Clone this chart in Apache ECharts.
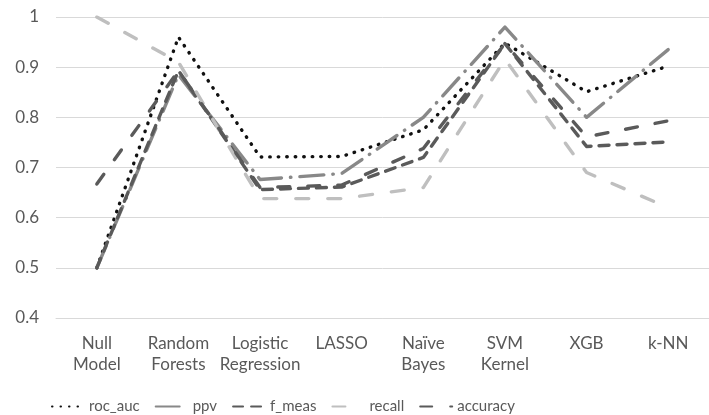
<!DOCTYPE html>
<html>
<head>
<meta charset="utf-8">
<script src="https://cdn.jsdelivr.net/npm/echarts@6/dist/echarts.min.js"></script>
<style>
  html, body { margin: 0; padding: 0; background: #fff; }
  #chart { width: 709px; height: 415px; }
</style>
</head>
<body>
<div id="chart"></div>
<script>
// Model names shown along the x axis
const models = ['Null\nModel', 'Random\nForests', 'Logistic\nRegression', 'LASSO', 'Naïve\nBayes', 'SVM\nKernel', 'XGB', 'k-NN'];

// Metric values per model
const rocAuc   = [0.500, 0.960, 0.721, 0.722, 0.775, 0.948, 0.851, 0.902];
const ppv      = [0.500, 0.885, 0.676, 0.688, 0.800, 0.980, 0.800, 0.935];
const fMeas    = [0.500, 0.893, 0.656, 0.661, 0.720, 0.947, 0.742, 0.751];
const recall   = [1.000, 0.910, 0.638, 0.638, 0.660, 0.916, 0.690, 0.620];
const accuracy = [0.667, 0.893, 0.660, 0.665, 0.738, 0.947, 0.761, 0.793];

// Y axis range and step
const yMin = 0.4, yMax = 1.0, yStep = 0.1;

const FONT = 'Lato';
const TEXT = '#595959';

function lineSeries(name, data, color, dash) {
  return {
    name: name,
    type: 'line',
    data: data,
    symbol: 'none',
    animation: false,
    lineStyle: { color: color, width: 3.4, type: dash, cap: 'round', join: 'round' },
    itemStyle: { color: color }
  };
}

const chart = echarts.init(document.getElementById('chart'), null, { renderer: 'canvas' });
chart.setOption({
  backgroundColor: '#fff',
  animation: false,
  textStyle: { fontFamily: FONT },
  grid: { left: 56, top: 17, width: 660, height: 301, containLabel: false },
  legend: {
    left: 46,
    top: 394,
    itemWidth: 32,
    itemHeight: 14,
    itemGap: 15,
    itemStyle: { opacity: 0 },
    textStyle: { color: TEXT, fontSize: 15, fontFamily: FONT },
    data: ['roc_auc', 'ppv', 'f_meas', 'recall', 'accuracy']
  },
  xAxis: {
    type: 'category',
    data: models,
    boundaryGap: true,
    axisLine: { show: true, lineStyle: { color: '#d9d9d9', width: 1 } },
    axisTick: { show: false },
    axisLabel: { color: TEXT, fontSize: 17, lineHeight: 21, margin: 15, interval: 0, fontFamily: FONT }
  },
  yAxis: {
    type: 'value',
    min: yMin,
    max: yMax,
    interval: yStep,
    axisLine: { show: false },
    axisTick: { show: false },
    splitLine: { lineStyle: { color: '#d9d9d9', width: 1 } },
    axisLabel: {
      color: TEXT, fontSize: 17, margin: 17, fontFamily: FONT,
      formatter: v => String(+v.toFixed(1))
    }
  },
  series: [
    lineSeries('roc_auc', rocAuc, '#111111', [0.5, 8]),
    lineSeries('ppv', ppv, '#888888', [24, 9, 0.5, 9]),
    lineSeries('f_meas', fMeas, '#5a5a5a', [10, 8]),
    lineSeries('recall', recall, '#bfbfbf', [13, 19]),
    lineSeries('accuracy', accuracy, '#5a5a5a', [12, 18])
  ]
});
</script>
</body>
</html>
